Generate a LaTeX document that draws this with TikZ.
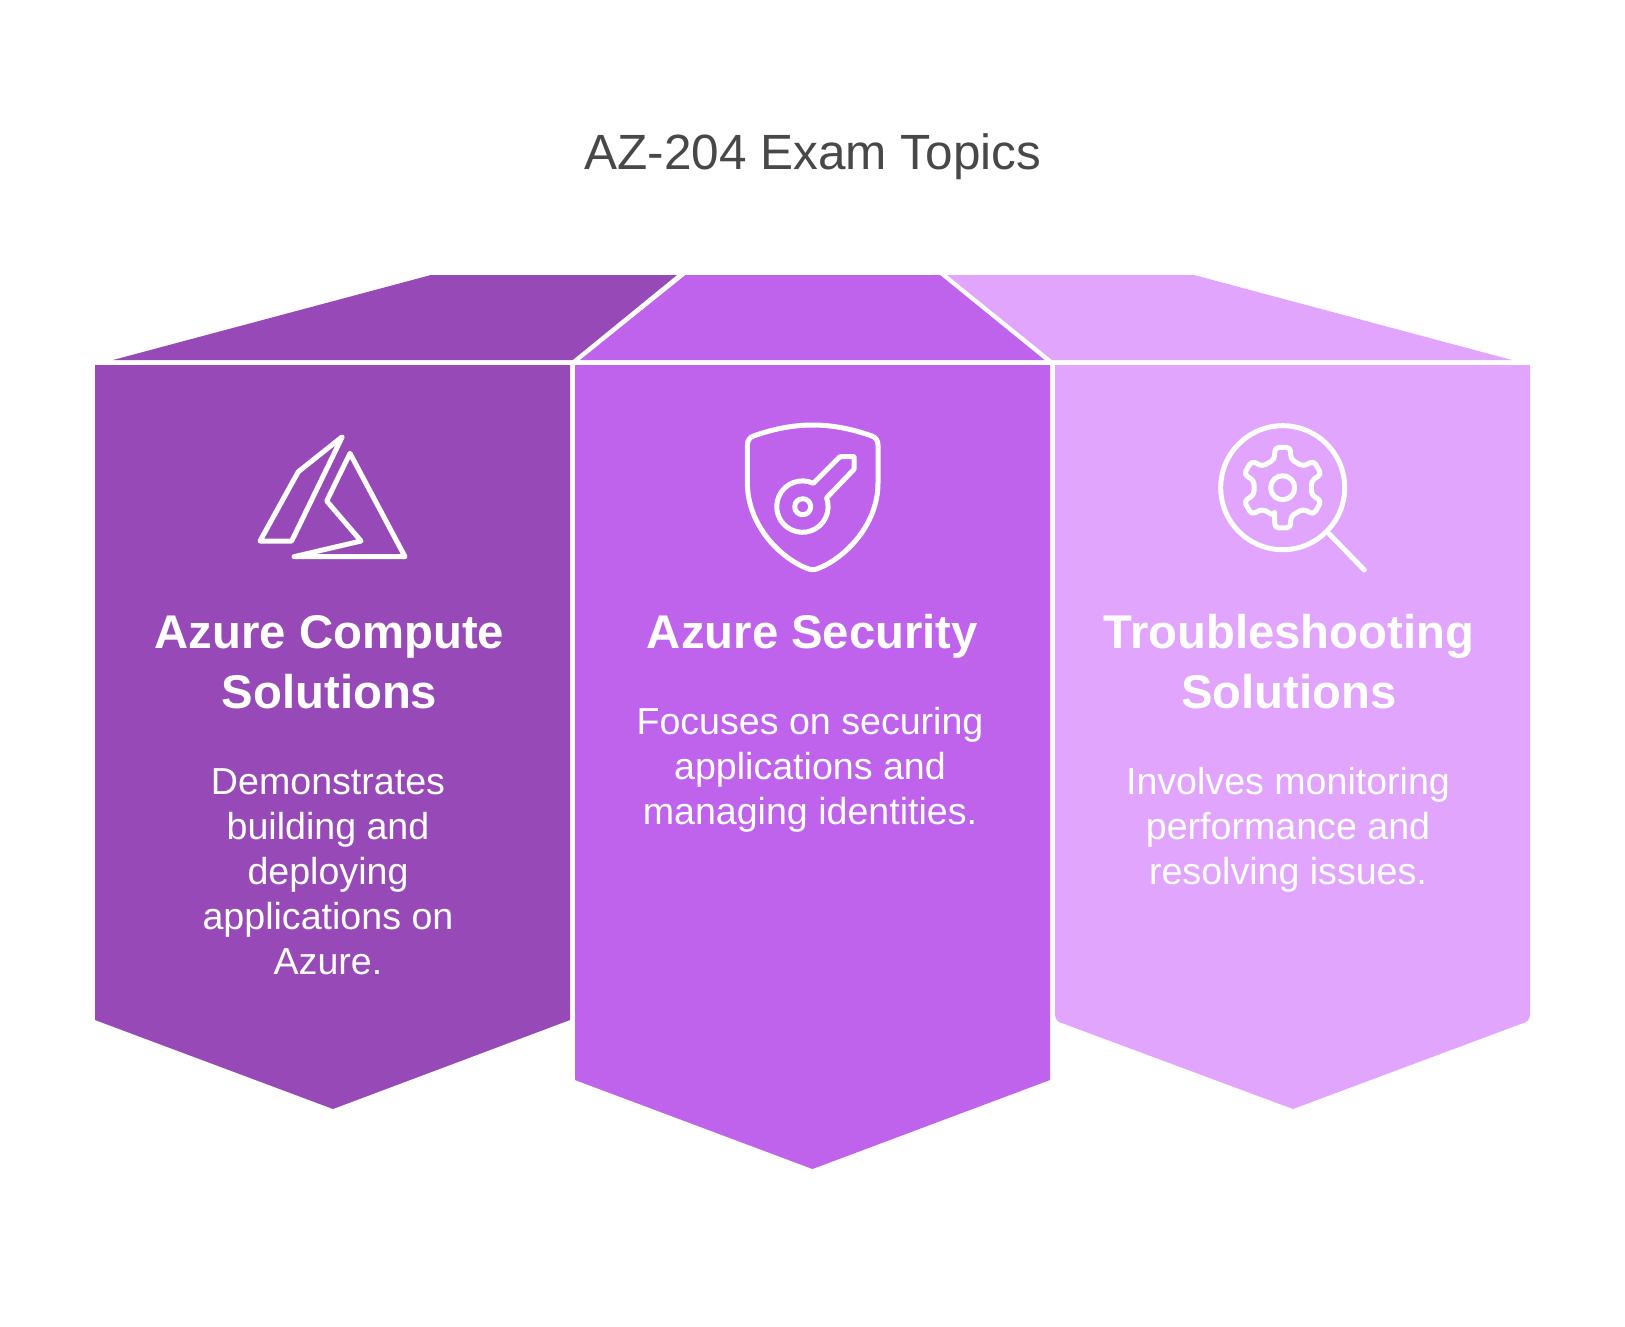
\documentclass[tikz,border=0pt]{standalone}
\usepackage{fontspec}
\setmainfont{Liberation Sans}
\definecolor{computecol}{HTML}{974AB7}
\definecolor{securitycol}{HTML}{BF62EC}
\definecolor{troublecol}{HTML}{E1A5FE}
\definecolor{titlecol}{HTML}{484848}
\begin{document}
\begin{tikzpicture}[x=1pt,y=-1pt,
title node/.style={font=\fontsize{49.5}{56}\selectfont,text=titlecol},
head node/.style={font=\fontsize{47.3}{60}\selectfont\bfseries,text=white,align=center},
text node/.style={font=\fontsize{37.6}{45}\selectfont,text=white,align=center},
icon line/.style={draw=white,line width=5pt,line join=round,line cap=round}]
\useasboundingbox (0,0) rectangle (1625,1326);
\node [title node](title) at (813,157) {AZ-204 Exam Topics};
% roofs
\fill [computecol] (113,360) -- (431,275) -- (677,275) -- (572.7,360) -- cycle;
\fill [securitycol] (580,360) -- (685.5,275) -- (940,275) -- (1044.6,360) -- cycle;
\fill [troublecol] (1052,360) -- (947,275) -- (1194,275) -- (1512,360) -- cycle;
% bodies
\fill [computecol] (95,365) -- (570,365) -- (570,1020) -- (333,1109) -- (95,1020) -- cycle;
\fill [securitycol] (575,365) -- (1050,365) -- (1050,1080) -- (812.5,1169) -- (575,1080) -- cycle;
\fill [troublecol] (1055,365) -- (1530,365) -- (1530,1013) .. controls (1530,1017) and (1529,1020) .. (1526,1022) -- (1293,1109) -- (1059,1022) .. controls (1056,1020) and (1055,1017) .. (1055,1013) -- cycle;
% icons
\draw [icon line] (342.3,436.7) -- (298.3,471.7) -- (260,541) -- (291.7,541) -- cycle;
\draw [icon line] (350,453.3) -- (405,556.7) -- (294,556.7) -- (361,541) -- (326.7,501) -- cycle;
\draw [icon line] (812.7,425) .. controls (835,425) and (855,430) .. (872,436) .. controls (876,437.5) and (878,441) .. (878,445) -- (878,483)
	.. controls (878,525) and (845,558) .. (818,568.5) .. controls (814,570) and (811,570) .. (807.4,568.5)
	.. controls (780,558) and (747.4,525) .. (747.4,483) -- (747.4,445) .. controls (747.4,441) and (749.4,437.5) .. (753.4,436) .. controls (770.4,430) and (790.4,425) .. (812.7,425) -- cycle;
\draw [icon line] (813.3,483.3) arc (-65:-380:25.7) -- (854,469.3) -- (854,456.7) -- (840,456.7) -- cycle;
\draw [icon line] (802.7,506.7) circle (8);
\draw [icon line] (1282.7,487.7) circle (62);
\draw [icon line] (1329.3,534) -- (1364.3,570);
\draw [icon line] (1282.7,487.7) circle (12);
\begin{scope}[shift={(1282.7,487.7)}]
\draw [icon line,rounded corners=4pt] (106:29.5) \foreach \a in {90,30,-30,-90,-150,-210} { -- (\a+16:29.5) -- (\a+11:41) -- (\a-11:41) -- (\a-16:29.5) } -- cycle;
\end{scope}
% texts
\node [head node](computehead) at (329.5,662) {Azure Compute\\Solutions};
\node [text node](computetext) at (328,871.5) {Demonstrates\\building and\\deploying\\applications on\\Azure.};
\node [head node](securityhead) at (812.5,636) {Azure Security};
\node [text node](securitytext) at (810,770) {Focuses on securing\\applications and\\managing identities.};
\node [head node](troublehead) at (1289,662) {Troubleshooting\\Solutions};
\node [text node](troubletext) at (1288,829.5) {Involves monitoring\\performance and\\resolving issues.};
\end{tikzpicture}
\end{document}
